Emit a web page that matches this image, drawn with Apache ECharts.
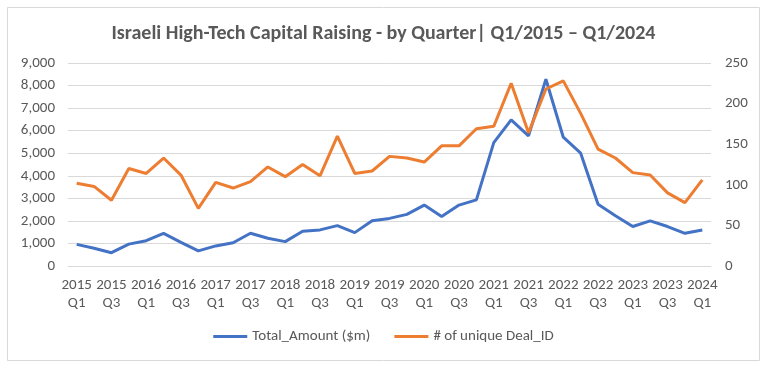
<!DOCTYPE html>
<html>
<head>
<meta charset="utf-8">
<script src="https://cdn.jsdelivr.net/npm/echarts@6/dist/echarts.min.js"></script>
<style>
html,body{margin:0;padding:0;background:#fff;}
#chart{width:767px;height:366px;}
</style>
</head>
<body>
<div id="chart"></div>
<script>
var years = ['2015','2015','2015','2015','2016','2016','2016','2016','2017','2017','2017','2017','2018','2018','2018','2018','2019','2019','2019','2019','2020','2020','2020','2020','2021','2021','2021','2021','2022','2022','2022','2022','2023','2023','2023','2023','2024'];
var quarters = ['Q1','Q2','Q3','Q4','Q1','Q2','Q3','Q4','Q1','Q2','Q3','Q4','Q1','Q2','Q3','Q4','Q1','Q2','Q3','Q4','Q1','Q2','Q3','Q4','Q1','Q2','Q3','Q4','Q1','Q2','Q3','Q4','Q1','Q2','Q3','Q4','Q1'];
var totalAmount = [960, 790, 590, 970, 1120, 1450, 1050, 670, 890, 1030, 1450, 1230, 1080, 1540, 1600, 1790, 1480, 2010, 2110, 2290, 2700, 2190, 2700, 2930, 5470, 6480, 5770, 8280, 5710, 5000, 2740, 2230, 1750, 2000, 1750, 1450, 1600];
var dealCount = [102, 98, 81, 120, 114, 133, 112, 71, 103, 96, 104, 122, 110, 125, 111, 160, 114, 117, 135, 133, 128, 148, 148, 169, 172, 225, 164, 218, 228, 188, 144, 133, 115, 112, 90, 78, 106];
var seriesNames = ['Total_Amount ($m)', '# of unique Deal_ID'];
var titleText = 'Israeli High-Tech Capital Raising - by Quarter| Q1/2015 \u2013 Q1/2024';

var categories = years.map(function(y, i){ return y + '\n' + quarters[i]; });
var font = 'Carlito, "Liberation Sans", "Open Sans", sans-serif';
var chart = echarts.init(document.getElementById('chart'));
chart.setOption({
  animation: false,
  backgroundColor: '#fff',
  graphic: [{
    type: 'rect', shape: {x: 7.5, y: 7.5, width: 752, height: 353},
    style: {fill: 'none', stroke: '#d9d9d9', lineWidth: 1}, silent: true, z: -1
  }],
  title: {
    text: titleText, left: 'center', top: 19,
    textStyle: {fontFamily: font, fontSize: 20, fontWeight: 'bold', color: '#595959'}
  },
  legend: {
    bottom: 17, left: 'center', itemWidth: 34, itemHeight: 3, itemGap: 24,
    icon: 'rect',
    textStyle: {fontFamily: font, fontSize: 15, color: '#595959'},
    data: seriesNames
  },
  grid: {left: 68, right: 56, top: 63, bottom: 100, containLabel: false},
  xAxis: {
    type: 'category', data: categories, boundaryGap: true,
    axisLine: {lineStyle: {color: '#d9d9d9'}},
    axisTick: {show: false},
    axisLabel: {interval: 1, color: '#595959', fontFamily: font, fontSize: 15, lineHeight: 18, margin: 10}
  },
  yAxis: [{
    type: 'value', min: 0, max: 9000, interval: 1000,
    axisLine: {show: false}, axisTick: {show: false},
    splitLine: {lineStyle: {color: '#d9d9d9'}},
    axisLabel: {color: '#595959', fontFamily: font, fontSize: 15, margin: 13,
      formatter: function(v){ return v.toLocaleString('en-US'); }}
  }, {
    type: 'value', min: 0, max: 250, interval: 50,
    axisLine: {show: false}, axisTick: {show: false}, splitLine: {show: false},
    axisLabel: {color: '#595959', fontFamily: font, fontSize: 15, margin: 14}
  }],
  series: [{
    name: seriesNames[0], type: 'line', yAxisIndex: 0, data: totalAmount,
    symbol: 'none', lineStyle: {color: '#4472C4', width: 3}, itemStyle: {color: '#4472C4'}
  }, {
    name: seriesNames[1], type: 'line', yAxisIndex: 1, data: dealCount,
    symbol: 'none', lineStyle: {color: '#ED7D31', width: 3}, itemStyle: {color: '#ED7D31'}
  }]
});
</script>
</body>
</html>
